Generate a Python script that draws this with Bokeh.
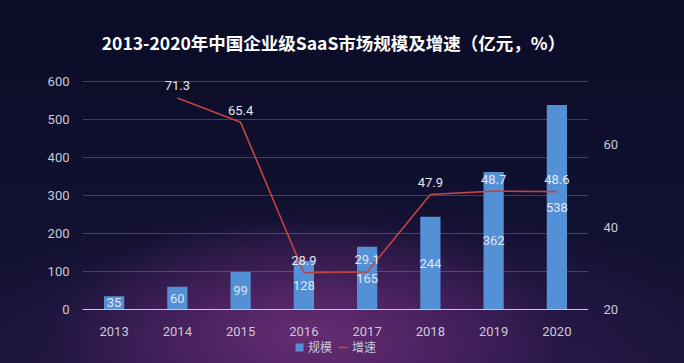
from bokeh.plotting import figure
from bokeh.models import (ColumnDataSource, Range1d, LinearAxis, FixedTicker, LabelSet,
                          Label, Legend, LegendItem, Span)
from bokeh.core.properties import value
from bokeh.embed import file_html
from bokeh.resources import INLINE

years = ["2013", "2014", "2015", "2016", "2017", "2018", "2019", "2020"]
scale = [35, 60, 99, 128, 165, 244, 362, 538]
growth_years = ["2014", "2015", "2016", "2017", "2018", "2019", "2020"]
growth = [71.3, 65.4, 28.9, 29.1, 47.9, 48.7, 48.6]
left_ticks = [0, 100, 200, 300, 400, 500, 600]
right_ticks = [20, 40, 60]

TXT = "#c9c9d8"
BAR = "#5490d6"
LINE = "#c0453f"
FONT = "Roboto"

W, H = 684, 363
FL, FR = 82, 588          # frame left/right (px)
Y0, Y600 = 309, 81        # pixel rows of left-axis 0 and 600
R_LO, R_HI = 20, 75.3     # right axis values at those same rows

ppu_l = (Y0 - Y600) / 600.0
ppu_r = (Y0 - Y600) / (R_HI - R_LO)
l_start, l_end = -(H - Y0) / ppu_l, 600 + Y600 / ppu_l
r_start, r_end = R_LO - (H - Y0) / ppu_r, R_LO + Y0 / ppu_r

p = figure(x_range=years, y_range=Range1d(l_start, l_end), width=W, height=H,
           output_backend="svg", toolbar_location=None,
           min_border_left=FL, min_border_right=W - FR, min_border_top=0,
           min_border_bottom=0)
p.background_fill_color = None
p.border_fill_color = None
p.outline_line_color = None
p.styles = {
    "background": ("radial-gradient(ellipse 38% 32% at 45% 92%, rgba(120,50,125,0.75), rgba(120,50,125,0) 100%), "
                   "radial-gradient(ellipse 60% 45% at 50% 100%, rgba(70,30,100,0.7), rgba(70,30,100,0) 100%), "
                   "linear-gradient(180deg, #0b0c26 0%, #0f0f2e 45%, #171438 100%)")
}
p.extra_y_ranges = {"g": Range1d(r_start, r_end)}
p.xaxis.visible = False

bar_src = ColumnDataSource(dict(x=years, v=scale, mid=[v / 2 for v in scale],
                                t=[str(v) for v in scale], z=[0] * len(years)))
line_src = ColumnDataSource(dict(x=growth_years, v=growth, t=[str(v) for v in growth]))

p.add_layout(Span(location=0, dimension="width", line_color="#c8c8d6", line_width=1.2))

bars = p.vbar(x="x", top="v", width=0.32, source=bar_src, fill_color=BAR, line_color=None)
ln = p.line(x="x", y="v", source=line_src, y_range_name="g", line_color=LINE, line_width=1.6)

p.add_layout(LabelSet(x="x", y="mid", text="t", source=bar_src, text_align="center",
                      text_baseline="middle", text_color="#dfe6f2", text_font_size="13px",
                      text_font=value(FONT)))
p.add_layout(LabelSet(x="x", y="v", text="t", source=line_src, y_range_name="g",
                      text_align="center", text_baseline="middle", y_offset=12,
                      text_color="#e6e6ee", text_font_size="13px", text_font=value(FONT)))
p.add_layout(LabelSet(x="x", y="z", text="x", source=bar_src, text_align="center",
                      text_baseline="middle", y_offset=-22,
                      text_color=TXT, text_font_size="13px", text_font=value(FONT)))

p.yaxis.ticker = FixedTicker(ticks=left_ticks)
p.yaxis.axis_line_color = None
p.yaxis.major_tick_line_color = None
p.yaxis.minor_tick_line_color = None
p.yaxis.major_label_text_color = TXT
p.yaxis.major_label_text_font_size = "13px"
p.yaxis.major_label_text_font = FONT
p.yaxis.major_label_standoff = 7

ra = LinearAxis(y_range_name="g", ticker=FixedTicker(ticks=right_ticks))
ra.axis_line_color = None
ra.major_tick_line_color = None
ra.minor_tick_line_color = None
ra.major_label_text_color = TXT
ra.major_label_text_font_size = "13px"
ra.major_label_text_font = FONT
ra.major_label_standoff = 9
p.add_layout(ra, "right")

p.xgrid.grid_line_color = None
p.ygrid.ticker = FixedTicker(ticks=left_ticks[1:])
p.ygrid.grid_line_color = "#9a9ab8"
p.ygrid.grid_line_alpha = 0.35

title = Label(x=333 - FL, y=H - 42, x_units="screen", y_units="screen",
              text="2013-2020年中国企业级SaaS市场规模及增速（亿元，%）",
              text_align="center", text_baseline="middle", text_color="#ffffff",
              text_font_size="17.5px", text_font_style="bold", text_font="Noto Sans CJK SC")
p.add_layout(title)

legend = Legend(items=[LegendItem(label="规模", renderers=[bars]),
                       LegendItem(label="增速", renderers=[ln])],
                orientation="horizontal", location="bottom_center",
                background_fill_alpha=0, border_line_color=None,
                label_text_color=TXT, label_text_font_size="12px",
                label_text_font="Noto Sans CJK SC", glyph_width=10, glyph_height=10,
                spacing=6, label_standoff=4, padding=0, margin=8,
                label_height=12)
p.add_layout(legend)

open("out.html", "w").write(file_html(p, INLINE))
